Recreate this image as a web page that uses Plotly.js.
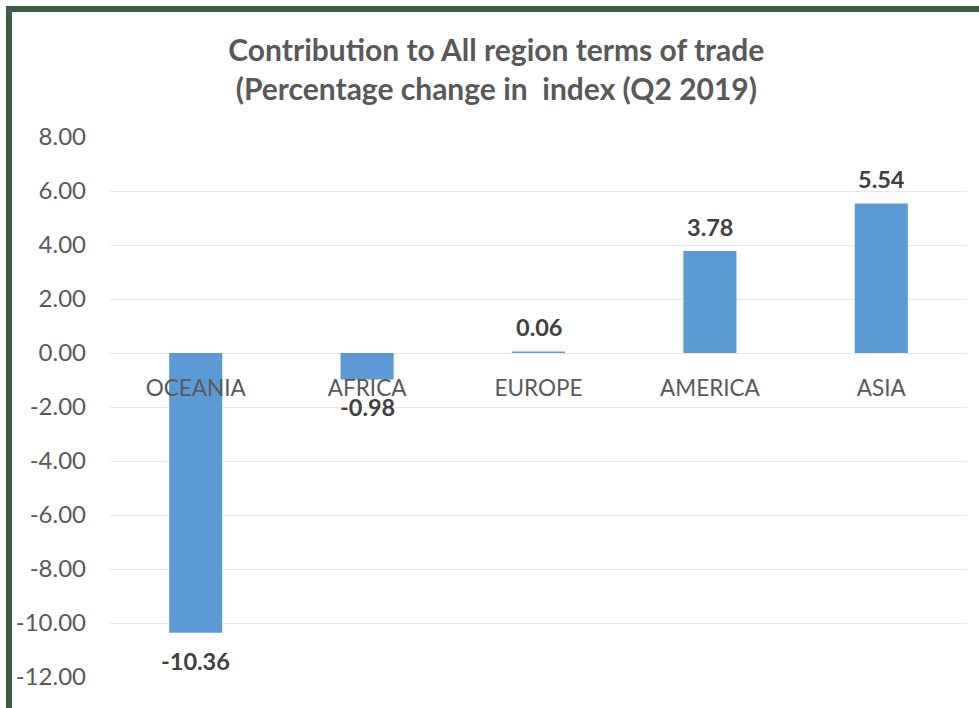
<!DOCTYPE html>
<html>
<head>
<meta charset="utf-8">
<script src="https://cdn.plot.ly/plotly-3.0.1.min.js"></script>
<style>
  html, body { margin: 0; padding: 0; background: #ffffff; }
  #wrap { position: relative; width: 979px; height: 708px; overflow: hidden; }
  #chart { position: absolute; left: 0; top: 0; width: 979px; height: 708px; }
  #frame { position: absolute; left: 6px; top: 6px; width: 985px; height: 696px;
           border-left: 6px solid #3d5f49; border-top: 6px solid #3d5f49; border-bottom: 3px solid #3d5f49;
           pointer-events: none; }
</style>
</head>
<body>
<div id="wrap">
  <div id="chart"></div>
  <div id="frame"></div>
</div>
<script>
const categories = ["OCEANIA", "AFRICA", "EUROPE", "AMERICA", "ASIA"];
const values = [-10.36, -0.98, 0.06, 3.78, 5.54];
const valueLabels = ["-10.36", "-0.98", "0.06", "3.78", "5.54"];
const yTickVals = [8, 6, 4, 2, 0, -2, -4, -6, -8, -10, -12];
const yTickText = ["8.00", "6.00", "4.00", "2.00", "0.00", "-2.00", "-4.00", "-6.00", "-8.00", "-10.00", "-12.00"];
const titleText = "Contribution to All region terms of trade<br>(Percentage change in  index (Q2 2019)";

const FONT = "Lato, 'Open Sans', sans-serif";

const trace = {
  type: "bar",
  x: categories,
  y: values,
  marker: { color: "#5b9bd5", line: { width: 0 } },
  hoverinfo: "x+y"
};

const annotations = categories.map((c, i) => ({
  x: c,
  y: values[i],
  xref: "x",
  yref: "y",
  text: valueLabels[i],
  showarrow: false,
  xanchor: "center",
  yanchor: "middle",
  yshift: values[i] >= 0 ? 24 : -28,
  font: { family: FONT, size: 23.5, color: "#404040", weight: 700 }
}));

const layout = {
  width: 979,
  height: 708,
  margin: { l: 110, r: 12, t: 137, b: 31, pad: 0 },
  paper_bgcolor: "#ffffff",
  plot_bgcolor: "#ffffff",
  showlegend: false,
  bargap: 0.69,
  title: {
    text: titleText,
    font: { family: FONT, size: 30, color: "#595959", weight: 700 },
    x: 0.507,
    xanchor: "center",
    y: 0.914,
    yanchor: "top",
    yref: "container"
  },
  xaxis: {
    type: "category",
    anchor: "free",
    position: 0.6,
    showgrid: false,
    showline: false,
    zeroline: false,
    ticks: "",
    ticklabelstandoff: 19,
    tickfont: { family: FONT, size: 22.5, color: "#595959" }
  },
  yaxis: {
    range: [-12, 8],
    domain: [0, 1],
    tickvals: yTickVals,
    ticktext: yTickText,
    showgrid: true,
    gridcolor: "#e8e8e8",
    gridwidth: 1,
    zeroline: false,
    showline: false,
    ticks: "",
    ticklabelstandoff: 23,
    tickfont: { family: FONT, size: 24, color: "#595959" }
  },
  annotations: annotations
};

Plotly.newPlot("chart", [trace], layout, { displayModeBar: false, staticPlot: true });
</script>
</body>
</html>
